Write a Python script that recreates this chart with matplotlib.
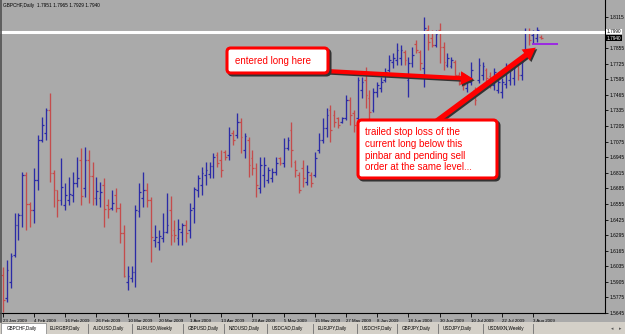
import matplotlib
matplotlib.use("Agg")
import matplotlib.pyplot as plt
import numpy as np
import pandas as pd
from matplotlib.patches import FancyArrowPatch, FancyBboxPatch, Rectangle
from matplotlib.lines import Line2D

# GBPCHF daily bars, 23 Jan 2009 .. 5 Aug 2009
highs = [1.6029, 1.6087, 1.6146, 1.6479, 1.6479, 1.6822, 1.6822, 1.6571, 1.6855, 1.7130,
         1.7281, 1.7356, 1.7481, 1.6838, 1.6671, 1.6939, 1.6730, 1.6780, 1.6822, 1.6947,
         1.7022, 1.7030, 1.7005, 1.6905, 1.6780, 1.6738, 1.6772, 1.6596, 1.6671, 1.6688,
         1.6563, 1.6379, 1.6037, 1.6037, 1.6546, 1.6730, 1.6822, 1.6730, 1.6613, 1.6379,
         1.6338, 1.6479, 1.6646, 1.6621, 1.6421, 1.6429, 1.6396, 1.6421, 1.6563, 1.6697,
         1.6797, 1.6863, 1.6905, 1.6905, 1.6980, 1.6989, 1.7005, 1.7005, 1.7197, 1.7172,
         1.7314, 1.7272, 1.7147, 1.7114, 1.7005, 1.6897, 1.6947, 1.6947, 1.6863, 1.6855,
         1.6947, 1.6947, 1.7105, 1.7114, 1.7239, 1.6922, 1.6822, 1.6922, 1.6880, 1.6822,
         1.6989, 1.7147, 1.7272, 1.7356, 1.7381, 1.7339, 1.7281, 1.7281, 1.7464, 1.7447,
         1.7339, 1.7614, 1.7614, 1.7698, 1.7506, 1.7523, 1.7573, 1.7614, 1.7690, 1.7798,
         1.7815, 1.7898, 1.7881, 1.7840, 1.7781, 1.7865, 1.7923, 1.7840, 1.8115, 1.8048,
         1.8006, 1.8006, 1.8065, 1.7906, 1.7815, 1.7781, 1.7756, 1.7656, 1.7614, 1.7589,
         1.7740, 1.7531, 1.7773, 1.7740, 1.7690, 1.7656, 1.7690, 1.7589, 1.7606, 1.7731,
         1.7698, 1.7715, 1.7731, 1.7756, 1.8023, 1.8023, 1.8006, 1.8032, 1.7965]
lows = [1.5653, 1.5737, 1.5854, 1.6112, 1.6254, 1.6363, 1.6338, 1.6363, 1.6396, 1.6671,
        1.7072, 1.7089, 1.6738, 1.6529, 1.6446, 1.6546, 1.6505, 1.6546, 1.6571, 1.6697,
        1.6546, 1.6613, 1.6563, 1.6546, 1.6546, 1.6529, 1.6363, 1.6438, 1.6505, 1.6488,
        1.6229, 1.5946, 1.5837, 1.5904, 1.5862, 1.6446, 1.6529, 1.6529, 1.6071, 1.6196,
        1.6171, 1.6237, 1.6313, 1.6212, 1.6237, 1.6212, 1.6212, 1.6237, 1.6271, 1.6396,
        1.6613, 1.6630, 1.6713, 1.6772, 1.6772, 1.6863, 1.6780, 1.6922, 1.6922, 1.7047,
        1.7105, 1.6980, 1.6939, 1.6780, 1.6797, 1.6613, 1.6646, 1.6697, 1.6730, 1.6738,
        1.6797, 1.6880, 1.6863, 1.7005, 1.6863, 1.6780, 1.6646, 1.6697, 1.6713, 1.6697,
        1.6780, 1.6980, 1.7064, 1.7114, 1.7072, 1.7197, 1.7189, 1.7230, 1.7256, 1.7214,
        1.7155, 1.7256, 1.7439, 1.7356, 1.7230, 1.7322, 1.7447, 1.7489, 1.7573, 1.7656,
        1.7690, 1.7715, 1.7715, 1.7715, 1.7447, 1.7698, 1.7815, 1.7673, 1.7531, 1.7840,
        1.7865, 1.7865, 1.7731, 1.7673, 1.7698, 1.7690, 1.7589, 1.7548, 1.7506, 1.7489,
        1.7548, 1.7381, 1.7564, 1.7589, 1.7564, 1.7523, 1.7506, 1.7481, 1.7439, 1.7523,
        1.7548, 1.7548, 1.7589, 1.7589, 1.7798, 1.7881, 1.7898, 1.7906, 1.7929]
opens = [1.5962, 1.5770, 1.5904, 1.6129, 1.6379, 1.6463, 1.6797, 1.6554, 1.6505, 1.6755,
         1.7089, 1.7147, 1.7339, 1.6813, 1.6671, 1.6588, 1.6546, 1.6588, 1.6630, 1.6730,
         1.6922, 1.6688, 1.6922, 1.6788, 1.6605, 1.6605, 1.6713, 1.6546, 1.6521, 1.6630,
         1.6521, 1.6313, 1.5904, 1.5937, 1.5987, 1.6496, 1.6605, 1.6671, 1.6588, 1.6254,
         1.6237, 1.6271, 1.6321, 1.6505, 1.6338, 1.6271, 1.6321, 1.6379, 1.6338, 1.6521,
         1.6671, 1.6713, 1.6797, 1.6805, 1.6872, 1.6964, 1.6922, 1.6989, 1.6964, 1.7147,
         1.7130, 1.7239, 1.7005, 1.7089, 1.6939, 1.6855, 1.6688, 1.6797, 1.6755, 1.6772,
         1.6822, 1.6939, 1.6897, 1.7022, 1.7172, 1.6905, 1.6797, 1.6855, 1.6738, 1.6797,
         1.6797, 1.7005, 1.7089, 1.7189, 1.7339, 1.7297, 1.7272, 1.7239, 1.7272, 1.7422,
         1.7314, 1.7272, 1.7506, 1.7589, 1.7439, 1.7339, 1.7489, 1.7523, 1.7589, 1.7673,
         1.7740, 1.7756, 1.7773, 1.7823, 1.7589, 1.7731, 1.7890, 1.7823, 1.7690, 1.8006,
         1.7940, 1.7881, 1.8006, 1.7865, 1.7715, 1.7706, 1.7740, 1.7631, 1.7589, 1.7523,
         1.7573, 1.7506, 1.7589, 1.7631, 1.7673, 1.7623, 1.7548, 1.7506, 1.7489, 1.7556,
         1.7589, 1.7606, 1.7706, 1.7631, 1.7823, 1.7990, 1.7965, 1.7940, 1.7951]
closes = [1.5754, 1.6004, 1.6121, 1.6379, 1.6463, 1.6797, 1.6554, 1.6505, 1.6755, 1.7089,
          1.7214, 1.7339, 1.6813, 1.6671, 1.6588, 1.6697, 1.6630, 1.6638, 1.6730, 1.6772,
          1.6621, 1.6922, 1.6788, 1.6605, 1.6663, 1.6655, 1.6513, 1.6513, 1.6563, 1.6521,
          1.6313, 1.5954, 1.5954, 1.5987, 1.6505, 1.6655, 1.6671, 1.6588, 1.6279, 1.6279,
          1.6288, 1.6321, 1.6379, 1.6296, 1.6296, 1.6346, 1.6379, 1.6313, 1.6505, 1.6680,
          1.6772, 1.6813, 1.6838, 1.6872, 1.6947, 1.6897, 1.6838, 1.6947, 1.7130, 1.7089,
          1.7239, 1.7114, 1.7122, 1.6880, 1.6855, 1.6713, 1.6880, 1.6880, 1.6838, 1.6822,
          1.6897, 1.6897, 1.7022, 1.7089, 1.7005, 1.6838, 1.6671, 1.6772, 1.6822, 1.6730,
          1.6939, 1.7089, 1.7189, 1.7297, 1.7172, 1.7239, 1.7214, 1.7272, 1.7422, 1.7297,
          1.7214, 1.7589, 1.7573, 1.7464, 1.7322, 1.7489, 1.7548, 1.7573, 1.7656, 1.7756,
          1.7773, 1.7840, 1.7840, 1.7756, 1.7731, 1.7798, 1.7840, 1.7731, 1.8023, 1.7906,
          1.7881, 1.7973, 1.7865, 1.7740, 1.7773, 1.7756, 1.7631, 1.7589, 1.7548, 1.7573,
          1.7673, 1.7422, 1.7715, 1.7706, 1.7606, 1.7556, 1.7656, 1.7573, 1.7573, 1.7698,
          1.7673, 1.7690, 1.7631, 1.7740, 1.7990, 1.7923, 1.7990, 1.8006, 1.7940]

first_day = "2009-01-23"
resistance = 1.7990      # white horizontal line
stop_level = 1.7890      # purple stop line under the pinbar
pinbar_idx = 136
last_price = 1.7940
header = "GBPCHF,Daily  1.7951 1.7965 1.7929 1.7940"
tabs = ["GBPCHF,Daily", "EURGBP,Daily", "AUDUSD,Daily", "EURUSD,Weekly", "GBPUSD,Daily",
        "NZDUSD,Daily", "USDCAD,Daily", "EURJPY,Daily", "USDCHF,Daily", "GBPJPY,Daily",
        "USDJPY,Daily", "USDMXN,Weekly"]
note1 = "entered long here"
note2 = ["trailed stop loss of the", "current long below this",
         "pinbar and pending sell", "order at the same level..."]

BG = "#aaaaaa"
BLUE = "#2b2ba6"
RED = "#c44c4c"
W, H = 625, 334
FONT = "Liberation Sans"


def fx(px):
    return px / W


def fy(py):
    return 1 - py / H


n = len(highs)
x = np.arange(n)
o = np.array(opens)
c = np.array(closes)
cols = np.where(c >= o, BLUE, RED)
dates = pd.bdate_range(first_day, periods=n)

fig = plt.figure(figsize=(W / 100, H / 100), dpi=100, facecolor=BG)
ax = fig.add_axes([0, fy(313), fx(605), 313 / H], facecolor=BG)

ax.vlines(x, lows, highs, colors=cols, lw=0.95)
ax.hlines(o, x - 0.45, x, colors=cols, lw=0.9)
ax.hlines(c, x, x + 0.45, colors=cols, lw=0.9)

ax.axhline(resistance, color="white", lw=2.2)
ax.hlines(stop_level, pinbar_idx - 0.2, pinbar_idx + 6.3, color="#9a1fe6", lw=1.3)

ax.set_xlim(-0.72, 154.4)
ax.set_ylim(1.5645, 1.82568)

for s in ["left", "top"]:
    ax.spines[s].set_visible(False)
for s in ["right", "bottom"]:
    ax.spines[s].set_color("black")
    ax.spines[s].set_linewidth(0.8)

ax.set_xticks(x[::8])
ax.set_xticklabels([f"{d.day} {d:%b %Y}" for d in dates[::8]], ha="left",
                   fontsize=3.2, family=FONT)
ax.tick_params(axis="x", length=3, width=0.6, pad=1)

# price scale; the 1.7985 level sits under the white line's price box
yt = [1.5645 + 0.013 * k for k in range(20)]
ax.yaxis.tick_right()
ax.set_yticks(yt)
ax.set_yticklabels(["" if abs(v - resistance) < 0.001 else f"{v:.4f}" for v in yt],
                   fontsize=3.5, family=FONT)
ax.tick_params(axis="y", length=2, width=0.6, pad=1.5)

tr = ax.get_yaxis_transform()
ax.text(1.003, resistance + 0.0003, f"{resistance:.4f}", transform=tr, fontsize=3.4,
        family=FONT, va="center", ha="left", color="black",
        bbox=dict(fc="white", ec="none", pad=0.25), clip_on=False)
ax.text(1.003, last_price - 0.0003, f"{last_price:.4f}", transform=tr, fontsize=3.4,
        family=FONT, va="center", ha="left", color="white",
        bbox=dict(fc="black", ec="none", pad=0.25), clip_on=False)

fig.text(fx(3), fy(5.5), header, fontsize=3.4, family=FONT, va="center", ha="left")

# window border on the left
fig.add_artist(Line2D([fx(0.6), fx(0.6)], [fy(0), fy(322)], color="#505050", lw=1.2))

# tab strip
fig.add_artist(Rectangle((0, 0), 1, 12 / H, transform=fig.transFigure, fc="#d4d0c8", ec="none"))
fig.add_artist(Rectangle((fx(0.5), fy(334)), fx(45), 11.5 / H, transform=fig.transFigure,
                         fc="white", ec="#808080", lw=0.5))
seps = [45, 88, 132, 183, 224, 267, 313, 357, 397, 438, 483, 533]
fig.text(fx(7), fy(328.5), tabs[0], fontsize=3.35, family=FONT, va="center")
for k, name in enumerate(tabs[1:]):
    fig.text(fx(seps[k] + 5), fy(328.5), name, fontsize=3.35, family=FONT, va="center")
for sx in seps[1:]:
    fig.add_artist(Line2D([fx(sx), fx(sx)], [fy(324), fy(333)], color="#707070", lw=0.6))
fig.text(fx(612), fy(328.5), "\u25c2", fontsize=3.5, color="#555555", va="center", ha="center")
fig.text(fx(620), fy(328.5), "\u25b8", fontsize=3.5, color="#555555", va="center", ha="center")


def note_box(x0, y0, x1, y1):
    for dx, dy, fc, ec in [(2, 2, "#333333", "#333333"), (0, 0, "white", "#ff0000")]:
        b = FancyBboxPatch((fx(x0 + dx), fy(y1 + dy)), fx(x1 - x0), (y1 - y0) / H,
                           boxstyle="round,pad=0,rounding_size=0.006",
                           transform=fig.transFigure, fc=fc, ec=ec, lw=2.2,
                           mutation_aspect=W / H)
        fig.add_artist(b)


def note_arrow(p0, p1, tail):
    style = f"simple,head_length=0.9,head_width=1.0,tail_width={tail}"
    for dx, col in [(1.5, "#333333"), (0, "#ff0000")]:
        a = FancyArrowPatch((fx(p0[0] + dx), fy(p0[1] + dx)), (fx(p1[0] + dx), fy(p1[1] + dx)),
                            transform=fig.transFigure, arrowstyle=style, mutation_scale=10,
                            color=col, lw=0)
        fig.add_artist(a)


note_arrow((326, 71), (476, 79), 0.3)
note_arrow((434, 123), (538, 46), 0.38)
note_box(227, 48, 328, 73)
note_box(358, 120, 497, 178)

fig.text(fx(235), fy(61), note1, fontsize=7, family=FONT, color="#ff0000", va="center")
for k, line in enumerate(note2):
    fig.text(fx(365), fy(132 + 11.8 * k), line, fontsize=7, family=FONT, color="#ff0000",
             va="center")

fig.savefig("out.png", dpi=100, facecolor=BG)
